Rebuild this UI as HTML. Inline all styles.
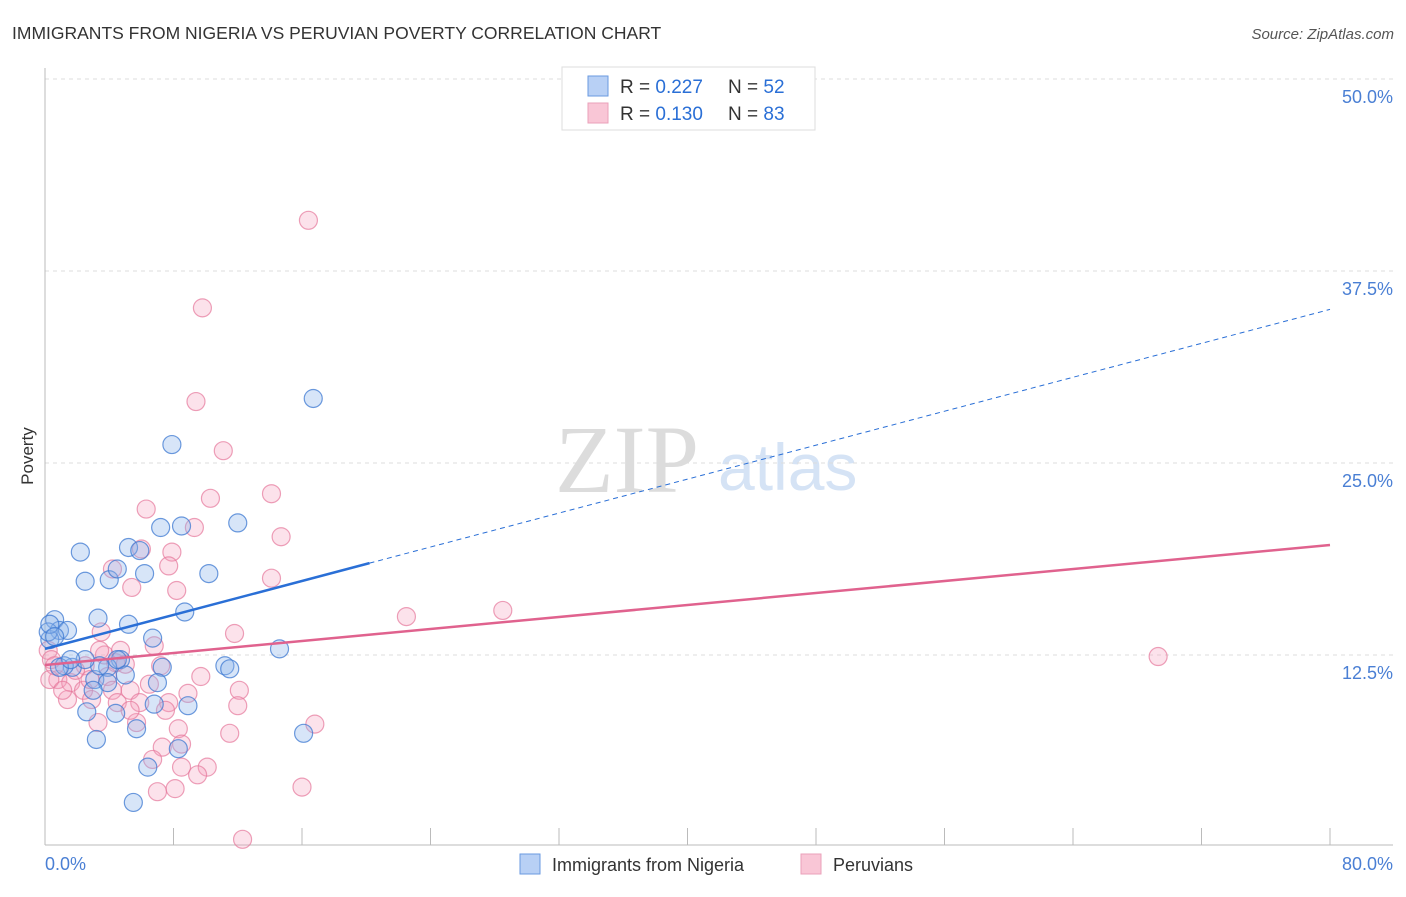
<!DOCTYPE html>
<html><head><meta charset="utf-8"><style>
body{margin:0;background:#fff;font-family:"Liberation Sans",sans-serif;}
</style></head><body>
<svg width="1406" height="892" xmlns="http://www.w3.org/2000/svg">
<text x="12" y="39" font-size="17.5" fill="#333">IMMIGRANTS FROM NIGERIA VS PERUVIAN POVERTY CORRELATION CHART</text>
<text x="1394" y="39" font-size="15" fill="#555" font-style="italic" text-anchor="end">Source: ZipAtlas.com</text>
<text x="555" y="492" font-size="96" font-family="Liberation Serif,serif" fill="#dcdcdc">ZIP</text>
<text x="718" y="490" font-size="66" fill="#d5e3f5">atlas</text>
<g id="grid"></g>
<line x1="45" y1="68" x2="45" y2="845" stroke="#bbb"/>
<line x1="45" y1="845" x2="1393" y2="845" stroke="#bbb"/>
<text x="33" y="456" font-size="17" fill="#333" transform="rotate(-90 33 456)" text-anchor="middle">Poverty</text>
<text x="45" y="870" font-size="18" fill="#4a7fd4">0.0%</text>
<text x="1393" y="870" font-size="18" fill="#4a7fd4" text-anchor="end">80.0%</text>
<g id="pts"></g>
<g id="trend"></g>
<g>
<rect x="562" y="67" width="253" height="63" fill="#fff" stroke="#ddd"/>
<rect x="588" y="76" width="20" height="20" fill="#b8d0f5" stroke="#6a9ae0"/>
<rect x="588" y="103" width="20" height="20" fill="#f9c6d6" stroke="#eaa0ba"/>
<text x="620" y="93" font-size="19" fill="#333">R = <tspan fill="#2a6fd6">0.227</tspan></text>
<text x="728" y="93" font-size="19" fill="#333">N = <tspan fill="#2a6fd6">52</tspan></text>
<text x="620" y="120" font-size="19" fill="#333">R = <tspan fill="#2a6fd6">0.130</tspan></text>
<text x="728" y="120" font-size="19" fill="#333">N = <tspan fill="#2a6fd6">83</tspan></text>
</g>
<g>
<rect x="520" y="854" width="20" height="20" fill="#b8d0f5" stroke="#6a9ae0"/>
<text x="552" y="871" font-size="18" fill="#333">Immigrants from Nigeria</text>
<rect x="801" y="854" width="20" height="20" fill="#f9c6d6" stroke="#eaa0ba"/>
<text x="833" y="871" font-size="18" fill="#333">Peruvians</text>
</g>
</svg>
<script>
const blueX=[16.7,7.9,12.0,8.5,7.2,5.2,2.2,5.9,10.2,6.2,2.5,4.0,4.5,8.7,3.3,5.2,0.6,0.9,1.4,0.3,6.7,14.6,11.2,11.5,7.3,7.0,4.7,3.9,1.7,3.1,3.9,5.0,3.0,2.6,4.4,6.8,8.9,5.7,3.2,16.1,6.4,8.3,5.5,0.2,0.3,0.6,1.2,3.4,2.5,4.5,0.9,1.6];
const blueY=[29.2,26.2,21.1,20.9,20.8,19.5,19.2,19.3,17.8,17.8,17.3,17.4,18.1,15.3,14.9,14.5,14.8,14.1,14.1,13.5,13.6,12.9,11.8,11.6,11.7,10.7,12.2,11.7,11.7,10.9,10.7,11.2,10.2,8.8,8.7,9.3,9.2,7.7,7.0,7.4,5.2,6.4,2.9,14.0,14.5,13.7,11.8,11.8,12.2,12.2,11.7,12.2];
const pinkX=[16.4,9.8,9.4,11.1,10.3,14.1,6.3,9.3,14.7,6.0,7.9,4.2,7.7,14.1,5.4,8.2,22.5,28.5,11.8,3.5,6.8,69.3,0.2,0.4,3.7,2.5,4.4,5.0,7.2,9.7,3.9,0.8,1.6,2.4,4.2,5.3,6.5,8.9,12.1,1.4,2.9,4.5,5.9,7.7,12.0,7.5,3.3,5.7,8.3,11.5,16.8,8.5,7.3,6.7,8.5,10.1,9.5,7.0,8.1,16.0,12.3,0.3,1.9,2.8,1.1,5.3,4.7,3.4,0.6];
const pinkY=[40.8,35.1,29.0,25.8,22.7,23.0,22.0,20.8,20.2,19.4,19.2,18.1,18.3,17.5,16.9,16.7,15.0,15.4,13.9,14.0,13.1,12.4,12.8,12.2,12.5,11.8,12.0,11.9,11.8,11.1,11.1,10.9,10.7,10.2,10.2,10.2,10.6,10.0,10.2,9.6,9.6,9.4,9.4,9.4,9.2,8.9,8.1,8.1,7.7,7.4,8.0,6.7,6.5,5.7,5.2,5.2,4.7,3.6,3.8,3.9,0.5,10.9,11.5,10.9,10.2,8.9,12.8,12.8,11.8];
const yTicks=[12.5,25,37.5,50];
const xTicks=[0,8,16,24,32,40,48,56,64,72,80];
const blueTrend=[12.9,35.0];
const pinkTrend=[11.85,19.66];
const blueSolidEnd=20.2;
const NS="http://www.w3.org/2000/svg";
const sx=v=>45+v*16.0625, sy=v=>847-v*15.36;
function mk(t,a,p){const e=document.createElementNS(NS,t);for(const k in a)e.setAttribute(k,a[k]);p.appendChild(e);return e;}
const grid=document.getElementById('grid');
yTicks.forEach(t=>{
 const l=mk('line',{x1:45,x2:1393,y1:sy(t),y2:sy(t),stroke:'#ddd','stroke-dasharray':'4,4'},grid);
 
 
 const tx=mk('text',{x:1393,y:sy(t)+24,'font-size':18,fill:'#4a7fd4','text-anchor':'end'},grid);
 tx.textContent=t.toFixed(1)+'%';
 
 
});
xTicks.slice(1).forEach(t=>{
 const l=mk('line',{x1:sx(t),x2:sx(t),y1:828,y2:845,stroke:'#bbb'},grid);
 
 
});
const pts=document.getElementById('pts');
pinkX.forEach((x,i)=>{
 const c=mk('circle',{cx:sx(x),cy:sy(pinkY[i]),r:9,fill:'rgba(244,160,188,0.3)',stroke:'rgba(230,120,155,0.7)','stroke-width':1.2},pts);
 
 
});
blueX.forEach((x,i)=>{
 const c=mk('circle',{cx:sx(x),cy:sy(blueY[i]),r:9,fill:'rgba(140,180,235,0.35)',stroke:'rgba(60,120,210,0.75)','stroke-width':1.2},pts);
 
 
});
const tr=document.getElementById('trend');
const by=x=>blueTrend[0]+(blueTrend[1]-blueTrend[0])*x/80;
let l1=mk('line',{x1:sx(0),y1:sy(by(0)),x2:sx(blueSolidEnd),y2:sy(by(blueSolidEnd)),stroke:'#2a6fd6','stroke-width':2.5},tr);


let l2=mk('line',{x1:sx(blueSolidEnd),y1:sy(by(blueSolidEnd)),x2:sx(80),y2:sy(by(80)),stroke:'#2a6fd6','stroke-width':1,'stroke-dasharray':'5,4'},tr);


let l3=mk('line',{x1:sx(0),y1:sy(pinkTrend[0]),x2:sx(80),y2:sy(pinkTrend[1]),stroke:'#e0628e','stroke-width':2.5},tr);


</script>
</body></html>
